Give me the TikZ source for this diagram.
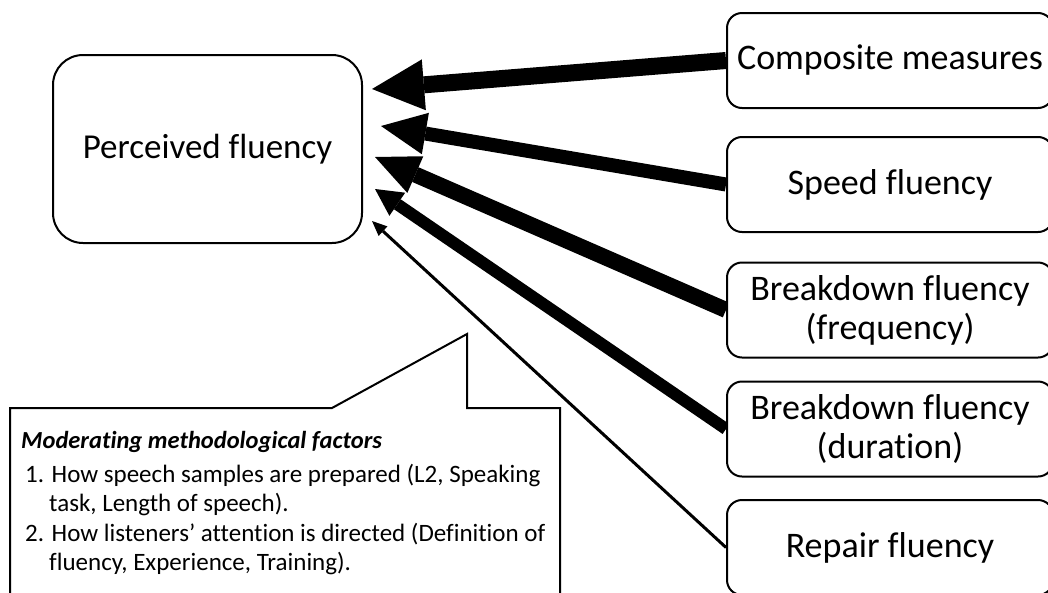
\documentclass[tikz,border=0pt]{standalone}
\usepackage{fontspec}
\setmainfont{Carlito}[Ligatures=NoCommon]
\usetikzlibrary{arrows.meta}
\pgfdeclarelayer{background}
\pgfsetlayers{background,main}
\begin{document}
\begin{tikzpicture}[x=1pt,y=-1pt,
  measure/.style={draw=black, line width=2pt, fill=white, rounded corners=15pt,
    inner sep=0pt, minimum width=326pt, minimum height=95pt, align=center,
    font=\fontsize{36}{39}\selectfont},
  target/.style={draw=black, line width=2pt, fill=white, rounded corners=30pt,
    inner sep=0pt, minimum width=309pt, minimum height=188pt,
    font=\fontsize{35}{40}\selectfont},
  note/.style={anchor=base west, inner sep=0pt, font=\fontsize{25}{30}\selectfont},
  link/.style={draw=black, line cap=butt}
]
\path[use as bounding box, clip] (0,0) rectangle (1048,592);

% outcome
\node[target] (pf) at (207.5,149) {Perceived fluency};

% predictors
\node[measure] (comp)  at (890,60.5)  {Composite measures};
\node[measure] (speed) at (890,184.5) {Speed fluency};
\node[measure] (freq)  at (890,310)   {Breakdown fluency\\(frequency)};
\node[measure] (dur)   at (890,429)   {Breakdown fluency\\(duration)};
\node[measure] (rep)   at (890,547.5) {Repair fluency};

% arrow tips next to the outcome box
\coordinate (t1) at (372,89);
\coordinate (t2) at (381,126);
\coordinate (t3) at (375,157);
\coordinate (t4) at (375,189);
\coordinate (t5) at (372,221);

% weighted links, kept behind the boxes
\begin{pgfonlayer}{background}
\draw[link, line width=17pt, -{Triangle[length=52pt,width=51pt,line width=0pt]}] (comp.west) -- (t1);
\draw[link, line width=14pt, -{Triangle[length=45pt,width=42pt,line width=0pt]}] (speed.west) -- (t2);
\draw[link, line width=16pt, -{Triangle[length=44pt,width=40pt,line width=0pt]}] (freq.west) -- (t3);
\draw[link, line width=12pt, -{Triangle[length=27pt,width=28pt,line width=0pt]}] (dur.west) -- (t4);
\draw[link, line width=3pt, -{Triangle[length=15pt,width=13pt,line width=0pt]}] (rep.west) -- (t5);
\end{pgfonlayer}

% callout with moderating factors
\coordinate (ptip) at (467,334);
\draw[line width=2pt, fill=white, line join=miter]
  (10,408) -- (332,408) -- (ptip) -- (467,408) -- (560,408) -- (560,600) -- (10,600) -- cycle;

\node[note, font=\fontsize{24.5}{30}\selectfont] (h) at (21,448) {\textbf{\textit{Moderating methodological factors}}};
\node[note] (i1)  at (25,482) {1. How speech samples are prepared (L2, Speaking};
\node[note] (i1b) at (49,511) {task, Length of speech).};
\node[note] (i2)  at (25,541) {2. How listeners’ attention is directed (Definition of};
\node[note] (i2b) at (49,570) {fluency, Experience, Training).};
\end{tikzpicture}
\end{document}
